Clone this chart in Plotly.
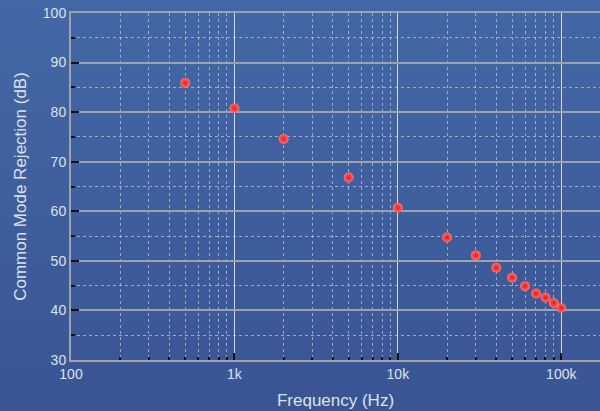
import plotly.graph_objects as go

freq_hz = [500, 1000, 2000, 5000, 10000, 20000, 30000, 40000, 50000,
           60000, 70000, 80000, 90000, 100000]
cmr_db = [85.9, 80.8, 74.6, 66.8, 60.7, 54.7, 51.1, 48.6, 46.6,
          44.9, 43.4, 42.6, 41.5, 40.5]

x_tick_vals = [100, 1000, 10000, 100000]
x_tick_text = ["100", "1k", "10k", "100k"]
x_minor_vals = [m * d for d in (100, 1000, 10000, 100000) for m in range(2, 10)]
y_tick_vals = [30, 40, 50, 60, 70, 80, 90, 100]

fig = go.Figure()

# vertical background gradient made of bands (paper coordinates)
top_rgb = (0x43, 0x68, 0xa6)
bot_rgb = (0x3a, 0x54, 0x94)
n_bands = 40
y0p, y1p = -0.16, 1.05
for i in range(n_bands):
    t = i / (n_bands - 1)
    c = tuple(round(bot_rgb[k] + (top_rgb[k] - bot_rgb[k]) * t) for k in range(3))
    fig.add_shape(type="rect", xref="paper", yref="paper",
                  x0=-0.2, x1=1.05,
                  y0=y0p + (y1p - y0p) * i / n_bands,
                  y1=y0p + (y1p - y0p) * (i + 1) / n_bands + 0.002,
                  fillcolor="rgb(%d,%d,%d)" % c, line_width=0, layer="below")

fig.add_trace(go.Scatter(
    x=freq_hz, y=cmr_db, mode="markers",
    marker=dict(size=10, color="#ff6f6f",
                gradient=dict(type="radial", color="#e41a1a"),
                line=dict(width=0)),
    hoverinfo="x+y", showlegend=False,
))

font_col = "#dde2ea"
fig.update_layout(
    width=600, height=411,
    margin=dict(l=71, r=0, t=13, b=51),
    paper_bgcolor="#3e5c9c",
    plot_bgcolor="rgba(0,0,0,0)",
    font=dict(family="Liberation Sans, Arial, sans-serif", size=14, color=font_col),
    showlegend=False,
)
fig.update_xaxes(
    type="log", range=[2, 5.237], automargin=False,
    tickmode="array", tickvals=x_tick_vals, ticktext=x_tick_text,
    ticks="inside", ticklen=7, tickwidth=2, tickcolor="#111111",
    showline=True, linecolor="#9ca3ad", linewidth=2, mirror=True,
    showgrid=True, gridcolor="#d6d8d4", gridwidth=1,
    zeroline=False,
    minor=dict(tickmode="array", tickvals=x_minor_vals, ticks="inside",
               ticklen=3, tickwidth=2, tickcolor="#111111",
               showgrid=True, gridcolor="rgba(205,210,220,0.65)",
               griddash="dot", gridwidth=1),
    title=dict(text="Frequency (Hz)", font=dict(size=17, color=font_col), standoff=13),
    tickfont=dict(size=14, color=font_col),
)
fig.update_yaxes(
    range=[30, 100], automargin=False,
    tickmode="array", tickvals=y_tick_vals,
    ticks="inside", ticklen=8, tickwidth=2, tickcolor="#111111",
    showline=True, linecolor="#9ca3ad", linewidth=2,
    showgrid=True, gridcolor="#9ca3ad", gridwidth=1.5,
    zeroline=False,
    minor=dict(dtick=5, ticks="inside", ticklen=4, tickwidth=2,
               tickcolor="#111111", showgrid=True,
               gridcolor="rgba(190,196,206,0.75)", griddash="dot", gridwidth=1),
    title=dict(text="Common Mode Rejection (dB)", font=dict(size=17, color=font_col),
               standoff=12),
    tickfont=dict(size=14, color=font_col),
)

fig.write_html("out.html",
               config={"displayModeBar": False},
               post_script="document.body.style.margin='0';document.body.style.overflow='hidden';")
